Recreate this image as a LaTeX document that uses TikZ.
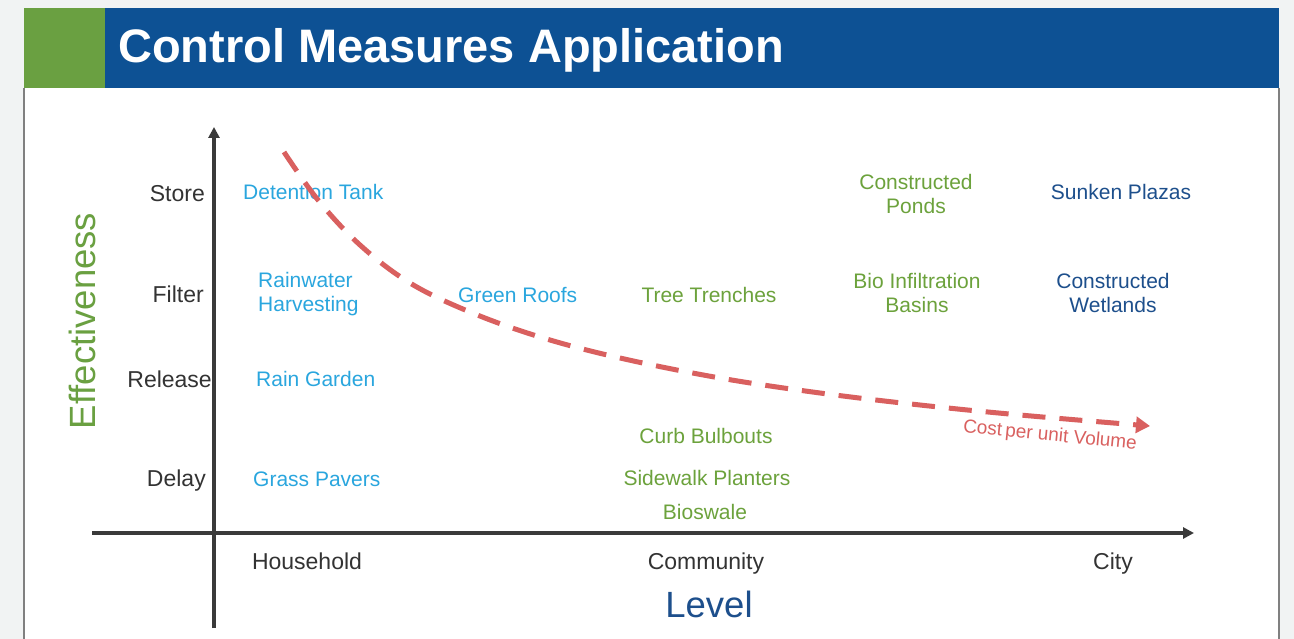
\documentclass[tikz,border=0pt]{standalone}
\usepackage{fontspec}
\setmainfont{Liberation Sans}
\usetikzlibrary{arrows.meta}
\definecolor{hdrblue}{HTML}{0D5194}
\definecolor{hdrgreen}{HTML}{6AA041}
\definecolor{ltblue}{HTML}{2AA6DE}
\definecolor{grn}{HTML}{6CA23C}
\definecolor{dkblue}{HTML}{1D4F8C}
\definecolor{axgray}{HTML}{3A3A3A}
\definecolor{txgray}{HTML}{333333}
\definecolor{costred}{HTML}{D9605F}
\definecolor{bggray}{HTML}{F1F3F3}
\tikzset{
  lbl/.style={font=\fontsize{21}{24}\selectfont, inner sep=0pt},
  albl/.style={font=\fontsize{23}{26}\selectfont, inner sep=0pt, text=txgray},
  ylbl/.style={albl, anchor=base east},
  xlbl/.style={albl, anchor=base},
  lb/.style={lbl, text=ltblue, align=left},
  gr/.style={lbl, text=grn, align=center},
  db/.style={lbl, text=dkblue, align=center},
  axis/.style={axgray, line width=3.2pt, -{Triangle[length=11pt,width=11pt]}},
}
\begin{document}
\begin{tikzpicture}[x=1pt,y=-1pt]
\useasboundingbox (0,0) rectangle (1294,639);
\fill[bggray] (0,0) rectangle (1294,639);
\fill[white] (24,8) rectangle (1279,639);
\draw[gray, line width=1.2pt] (24,88) -- (24,639);
\draw[gray, line width=1.2pt] (1279,88) -- (1279,639);
\fill[hdrgreen] (24,8) rectangle (105,88);
\fill[hdrblue] (105,8) rectangle (1279,88);
\node[anchor=base west, inner sep=0pt, text=white, font=\fontsize{47}{50}\selectfont\bfseries] (title) at (118,63) {Control Measures Application};

% axes
\coordinate (ybot) at (214,628);
\coordinate (ytop) at (214,127);
\coordinate (xl) at (92,533);
\coordinate (xr) at (1194,533);
\draw[axis] (ybot) -- (ytop);
\draw[axis] (xl) -- (xr);

% axis labels
\node[ylbl] (store) at (205,202) {Store};
\node[ylbl] (filter) at (204,302) {Filter};
\node[ylbl] (release) at (212,387) {Release};
\node[ylbl] (delay) at (206,486) {Delay};
\node[xlbl] (house) at (307,569) {Household};
\node[xlbl] (comm) at (706,569) {Community};
\node[xlbl] (city) at (1113,569) {City};
\node[lbl, anchor=base, text=dkblue, font=\fontsize{36.5}{40}\selectfont] (level) at (709,617) {Level};
\node[lbl, text=hdrgreen, font=\fontsize{36.5}{40}\selectfont, rotate=90] (eff) at (82,321) {Effectiveness};

% measures
\node[lb, anchor=base west] (dt) at (243,200) {Detention Tank};
\node[lb, anchor=west] (rh) at (258,294) {Rainwater\\Harvesting};
\node[lb, anchor=base west] (rg) at (256,386) {Rain Garden};
\node[lb, anchor=base west] (gp) at (253,486) {Grass Pavers};
\node[lb, anchor=base west] (gro) at (458,303) {Green Roofs};
\node[gr, anchor=base] (tt) at (709,303) {Tree Trenches};
\node[gr, anchor=base] (cb) at (706,443) {Curb Bulbouts};
\node[gr, anchor=base] (sp) at (707,485) {Sidewalk Planters};
\node[gr, anchor=base] (bs) at (705,519) {Bioswale};
\node[gr] (cp) at (916,194) {Constructed\\Ponds};
\node[gr] (bib) at (917,293) {Bio Infiltration\\Basins};
\node[db, anchor=base] (spl) at (1121,200) {Sunken Plazas};
\node[db] (cw) at (1113,293) {Constructed\\Wetlands};

% cost curve
\draw[costred, line width=5pt, dash pattern=on 23pt off 14pt, -{Triangle[length=14pt,width=16pt]}]
  plot[smooth, tension=0.6] coordinates {(284,152) (318,200) (360,245) (410,283) (470,312) (540,337) (620,358) (720,378) (820,393) (920,405) (1020,415) (1150,426)};
\node[lbl, text=costred, font=\fontsize{19}{21}\selectfont, rotate=-5.5] (cost) at (1050,436) {Cost\,per unit Volume};
\end{tikzpicture}
\end{document}
